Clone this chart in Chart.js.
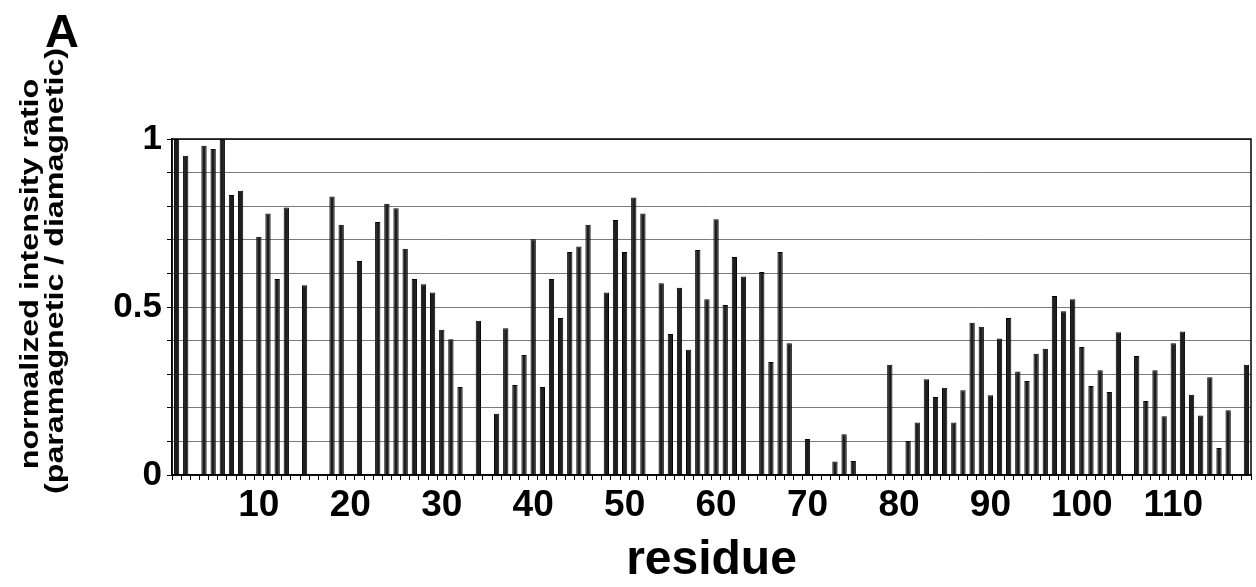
<!DOCTYPE html>
<html>
<head>
<meta charset="utf-8">
<script src="https://cdn.jsdelivr.net/npm/chart.js@4.4.1/dist/chart.umd.min.js"></script>
<style>
  html, body { margin: 0; padding: 0; background: #fff; }
  #wrap { width: 1256px; height: 587px; }
</style>
</head>
<body>
<div id="wrap"><canvas id="grafico" width="1256" height="587"></canvas></div>
<script>
// residue numbers (x categories)
const residues = [
  1, 2, 3, 4, 5, 6, 7, 8, 9, 10, 11, 12, 13, 14, 15, 16, 17, 18, 19, 20,
  21, 22, 23, 24, 25, 26, 27, 28, 29, 30, 31, 32, 33, 34, 35, 36, 37, 38, 39, 40,
  41, 42, 43, 44, 45, 46, 47, 48, 49, 50, 51, 52, 53, 54, 55, 56, 57, 58, 59, 60,
  61, 62, 63, 64, 65, 66, 67, 68, 69, 70, 71, 72, 73, 74, 75, 76, 77, 78, 79, 80,
  81, 82, 83, 84, 85, 86, 87, 88, 89, 90, 91, 92, 93, 94, 95, 96, 97, 98, 99, 100,
  101, 102, 103, 104, 105, 106, 107, 108, 109, 110, 111, 112, 113, 114, 115, 116, 117, 118
];

// normalized intensity ratio per residue (null = no data)
const ratios = [
  1.0, 0.95, null, 0.98, 0.97, 1.0, 0.833, 0.846, null, 0.709,
  0.778, 0.583, 0.796, null, 0.565, null, null, 0.829, 0.745, null,
  0.637, null, 0.753, 0.807, 0.794, 0.673, 0.583, 0.568, 0.543, 0.432,
  0.404, 0.262, null, 0.459, null, 0.182, 0.437, 0.268, 0.357, 0.702,
  0.262, 0.583, 0.467, 0.664, 0.68, 0.745, null, 0.543, 0.759, 0.664,
  0.826, 0.778, null, 0.571, 0.42, 0.557, 0.373, 0.67, 0.523, 0.761,
  0.506, 0.649, 0.591, null, 0.604, 0.336, 0.664, 0.392, null, 0.107,
  null, null, 0.04, 0.121, 0.042, null, null, null, 0.328, null,
  0.101, 0.156, 0.285, 0.232, 0.26, 0.156, 0.252, 0.453, 0.441, 0.237,
  0.406, 0.467, 0.308, 0.28, 0.361, 0.376, 0.533, 0.487, 0.523, 0.381,
  0.265, 0.312, 0.247, 0.425, null, 0.354, 0.22, 0.312, 0.175, 0.392,
  0.427, 0.239, 0.177, 0.291, 0.08, 0.193, null, 0.328
];

// which tick labels are shown
const xTickLabels = [10, 20, 30, 40, 50, 60, 70, 80, 90, 100, 110];
const yTickLabels = [0, 0.5, 1];

const yTitleLines = ["normalized intensity ratio", "(paramagnetic / diamagnetic)"];
const panelLabel = "A";

const FONT = "'Liberation Sans', Arial, sans-serif";

// frame round the plot, panel letter, y title (stretched along its length like the original)
const extras = {
  id: "extras",
  afterDraw(chart) {
    const ctx = chart.ctx;
    const a = chart.chartArea;
    ctx.save();
    ctx.strokeStyle = "#000";
    ctx.lineWidth = 1.5;
    ctx.strokeRect(a.left, a.top, a.right - a.left, a.bottom - a.top);

    ctx.fillStyle = "#000";
    ctx.font = "bold 47px " + FONT;
    ctx.textAlign = "center";
    ctx.textBaseline = "alphabetic";
    ctx.fillText(panelLabel, 62, 47);

    ctx.font = "bold 26px " + FONT;
    ctx.textBaseline = "middle";
    const pos = [[31, 274], [56, 271]];
    yTitleLines.forEach((line, i) => {
      ctx.save();
      ctx.translate(pos[i][0], pos[i][1]);
      ctx.rotate(-Math.PI / 2);
      ctx.scale(1.24, 1);
      ctx.fillText(line, 0, 0);
      ctx.restore();
    });
    ctx.restore();
  }
};

new Chart(document.getElementById("grafico"), {
  type: "bar",
  data: {
    labels: residues,
    datasets: [{
      data: ratios,
      backgroundColor: "#1e1e1e",
      borderColor: "#000",
      borderWidth: 1,
      barPercentage: 0.58,
      categoryPercentage: 1.0
    }]
  },
  options: {
    responsive: false,
    animation: false,
    layout: { padding: { top: 139, right: 5, left: 0, bottom: 0 } },
    plugins: { legend: { display: false }, tooltip: { enabled: false } },
    scales: {
      x: {
        grid: { drawOnChartArea: false, drawTicks: true, tickLength: 5, color: "#000", offset: true },
        border: { color: "#000", width: 1.5 },
        ticks: {
          autoSkip: false,
          maxRotation: 0,
          minRotation: 0,
          padding: 4,
          color: "#000",
          font: { family: FONT, size: 37, weight: "bold" },
          callback: function (v) {
            const r = residues[v];
            return xTickLabels.includes(r) ? String(r) : "";
          }
        },
        title: {
          display: true,
          text: "residue",
          color: "#000",
          font: { family: FONT, size: 48, weight: "bold", lineHeight: 1.0 },
          padding: { top: 0, bottom: 2 }
        },
        afterFit: (s) => { s.height = 112; }
      },
      y: {
        min: 0,
        max: 1,
        grid: { color: "#7a7a7a", lineWidth: 1, tickLength: 5, tickColor: "#000" },
        border: { color: "#000", width: 1.5 },
        ticks: {
          stepSize: 0.1,
          autoSkip: false,
          padding: 5,
          color: "#000",
          font: { family: FONT, size: 35, weight: "bold" },
          callback: function (v) {
            const hit = yTickLabels.find(t => Math.abs(t - v) < 1e-6);
            return hit === undefined ? "" : String(hit);
          }
        },
        afterFit: (s) => { s.width = 172; }
      }
    }
  },
  plugins: [extras]
});
</script>
</body>
</html>
